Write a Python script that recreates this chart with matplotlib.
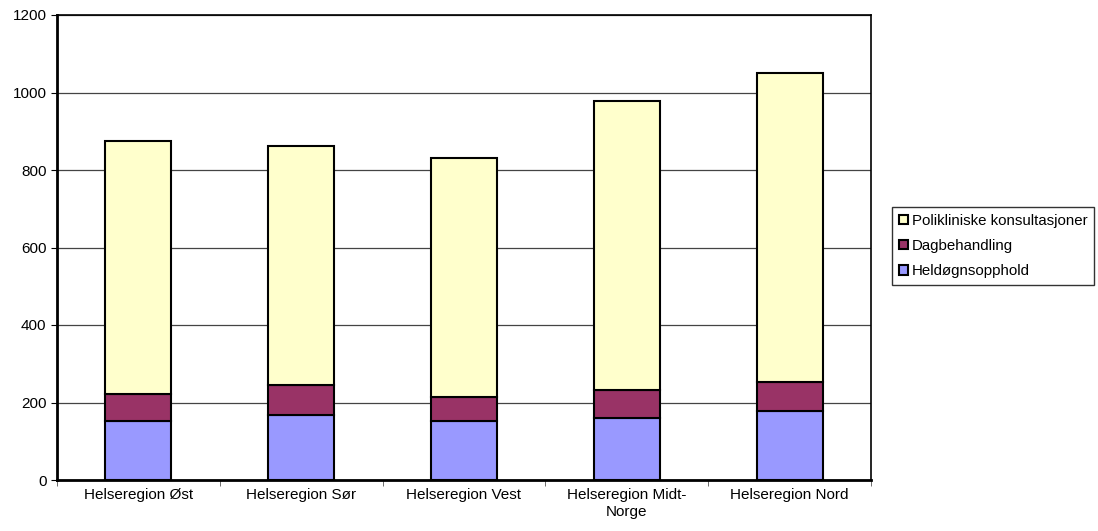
import matplotlib.pyplot as plt
import numpy as np

plt.rcParams['font.family'] = ['Liberation Sans', 'DejaVu Sans']

regions = ["Helseregion Øst", "Helseregion Sør", "Helseregion Vest",
           "Helseregion Midt-\nNorge", "Helseregion Nord"]
heldogn = [153, 167, 153, 160, 177]
dagbeh = [70, 79, 60, 73, 76]
poli = [651, 615, 617, 746, 797]

fig = plt.figure(figsize=(10.98, 5.31), dpi=100)
ax = fig.add_axes([57 / 1098, 1 - 480 / 531, (871 - 57) / 1098, (480 - 15) / 531])

x = np.arange(len(regions))
w = 0.405
b1 = np.array(heldogn)
b2 = b1 + np.array(dagbeh)
ax.bar(x, heldogn, w, color='#9999FF', edgecolor='black', linewidth=1.5,
       label='Heldøgnsopphold', zorder=3)
ax.bar(x, dagbeh, w, bottom=b1, color='#993366', edgecolor='black', linewidth=1.5,
       label='Dagbehandling', zorder=3)
ax.bar(x, poli, w, bottom=b2, color='#FFFFCC', edgecolor='black', linewidth=1.5,
       label='Polikliniske konsultasjoner', zorder=3)

ax.set_xlim(-0.5, len(regions) - 0.5)
ax.set_ylim(0, 1200)
ax.set_yticks(range(0, 1201, 200))
ax.yaxis.grid(True, color='#444444', linewidth=0.9)
ax.set_axisbelow(True)
ax.set_xticks(x)
ax.set_xticklabels(regions, fontsize=11)
ax.set_xticks(np.arange(-0.5, len(regions)), minor=True)
ax.tick_params(axis='x', which='major', length=0, pad=6)
ax.tick_params(axis='x', which='minor', length=4, direction='out', color='#555555')
ax.tick_params(axis='y', labelsize=11, length=4, direction='out')
for s in ax.spines.values():
    s.set_linewidth(1.2)
ax.spines['left'].set_linewidth(2)
ax.spines['bottom'].set_linewidth(2)

h, l = ax.get_legend_handles_labels()
leg = fig.legend(h[::-1], l[::-1], loc='upper left', bbox_to_anchor=(892 / 1098, 1 - 207 / 531),
                 fontsize=10.8, frameon=True, fancybox=False, edgecolor='black',
                 handlelength=0.6, handleheight=0.6, handletextpad=0.25, labelspacing=0.75,
                 borderpad=0.45, borderaxespad=0)
leg.get_frame().set_linewidth(1)

fig.savefig('out.png', dpi=100)
